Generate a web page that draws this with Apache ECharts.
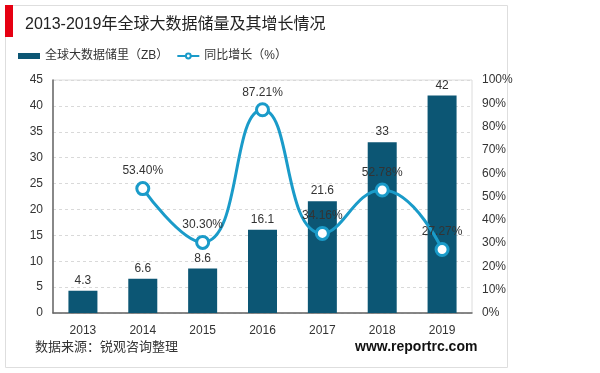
<!DOCTYPE html>
<html>
<head>
<meta charset="utf-8">
<script src="https://cdn.jsdelivr.net/npm/echarts@6/dist/echarts.min.js"></script>
<style>html,body{margin:0;padding:0;background:#fff;}#c{width:600px;height:373px;}</style>
</head>
<body>
<div id="c"></div>
<script>
var categories = ['2013','2014','2015','2016','2017','2018','2019'];
var storage = [4.3, 6.6, 8.6, 16.1, 21.6, 33, 42];
var growth = [null, 53.40, 30.30, 87.21, 34.16, 52.78, 27.27];
var titleText = '2013-2019年全球大数据储量及其增长情况';
var barName = '全球大数据储里（ZB）';
var lineName = '同比增长（%）';
var sourceText = '数据来源：锐观咨询整理';
var siteText = 'www.reportrc.com';

var FONT = '"Liberation Sans", Arial, "Noto Sans CJK SC", sans-serif';
var chart = echarts.init(document.getElementById('c'));
chart.setOption({
  backgroundColor: '#fff',
  animation: false,
  textStyle: { fontFamily: FONT },
  graphic: [
    { type: 'rect', shape: { x: 5.5, y: 5.5, width: 502, height: 362 }, style: { fill: 'none', stroke: '#dedede', lineWidth: 1 }, z: 0 },
    { type: 'rect', shape: { x: 5, y: 5, width: 8, height: 32 }, style: { fill: '#e60012' }, z: 2 },
    { type: 'text', left: 25, top: 17, style: { text: titleText, font: '16px ' + FONT, fill: '#222' } },
    { type: 'text', left: 35, top: 341, style: { text: sourceText, font: '13px ' + FONT, fill: '#333' } },
    { type: 'text', left: 355, top: 340, style: { text: siteText, font: 'bold 14px ' + FONT, fill: '#111' } }
  ],
  legend: {
    left: 18, top: 50, padding: 0, itemGap: 8, itemWidth: 22, itemHeight: 6,
    textStyle: { fontSize: 12, color: '#333', fontFamily: FONT },
    data: [
      { name: barName, icon: 'rect' },
      { name: lineName }
    ]
  },
  grid: { left: 53, right: 128, top: 80, bottom: 60, show: true, borderColor: '#dcdcdc', borderWidth: 1 },
  xAxis: {
    type: 'category', data: categories,
    axisLine: { lineStyle: { color: '#666', width: 1.5 } },
    axisTick: { show: false },
    axisLabel: { color: '#333', fontSize: 12, margin: 12 }
  },
  yAxis: [
    {
      type: 'value', min: 0, max: 45, interval: 5,
      axisLine: { show: true, lineStyle: { color: '#666', width: 1.5 } },
      axisTick: { show: false },
      axisLabel: { color: '#333', fontSize: 12, margin: 10 },
      splitLine: { lineStyle: { color: '#d9d9d9', type: [3, 3] } }
    },
    {
      type: 'value', min: 0, max: 100, interval: 10,
      axisLine: { show: false },
      axisTick: { show: false },
      axisLabel: { color: '#333', fontSize: 12, margin: 10, formatter: '{value}%' },
      splitLine: { show: false }
    }
  ],
  series: [
    {
      name: barName, type: 'bar', data: storage, barWidth: 29,
      itemStyle: { color: '#0c5674' },
      label: { show: true, position: 'top', color: '#333', fontSize: 12, distance: 4 }
    },
    {
      name: lineName, type: 'line', yAxisIndex: 1, data: growth, smooth: true,
      connectNulls: false,
      symbol: 'circle', symbolSize: 12,
      lineStyle: { color: '#1a9bc9', width: 3 },
      itemStyle: { color: '#fff', borderColor: '#1a9bc9', borderWidth: 3 },
      label: { show: true, position: 'top', color: '#333', fontSize: 12, distance: 4,
        formatter: function (p) { return p.value.toFixed(2) + '%'; } },
      z: 3
    }
  ]
});
</script>
</body>
</html>
